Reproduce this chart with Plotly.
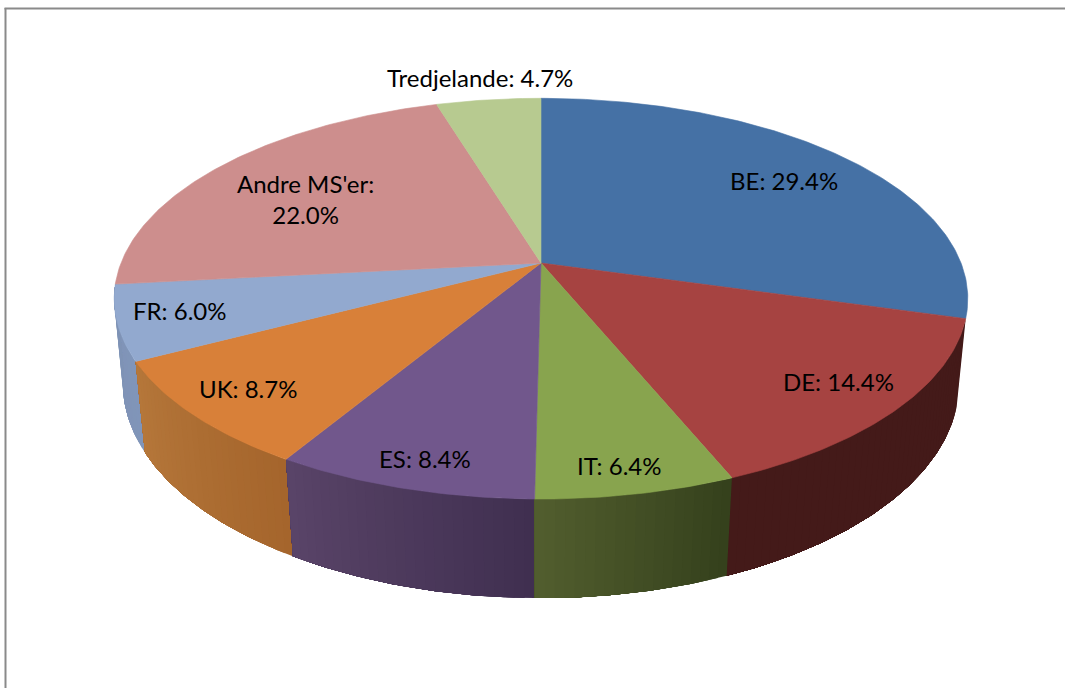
import math
import plotly.graph_objects as go

# ---- data ----
categories = ["BE", "DE", "IT", "ES", "UK", "FR", "Andre MS'er", "Tredjelande"]
shares = [29.4, 14.4, 6.4, 8.4, 8.7, 6.0, 22.0, 4.7]
label_texts = ["BE: 29.4%", "DE: 14.4%", "IT: 6.4%", "ES: 8.4%", "UK: 8.7%", "FR: 6.0%",
               "Andre MS'er:<br>22.0%", "Tredjelande: 4.7%"]

# ---- style ----
top_colors = ["#4571A5", "#A64341", "#88A44E", "#71578C", "#D88039", "#92A9CF", "#CD8E8D", "#B7CA90"]
wall_colors = [None, ("#441A19", "#441A19"), ("#525E2E", "#34401C"), ("#5A4468", "#3F2F50"),
               ("#B5773A", "#A5652C"), ("#7F93B5", "#8095B9"), None, None]
label_anchor = [(784, 180), (838, 381), (619, 465), (425, 458), (248, 388), (180, 310), (305, 199), (480, 77)]

# projection of the pie disc: apex of the top face and perspective of top / bottom rims
APEX = (541, 263)
TOP = dict(a=420, b=194, k=0.178, cy=263)
BOTTOM = dict(a=412, b=208, k=0.17, cy=347.5)


def project(theta, rim):
    u, v = math.sin(theta), -math.cos(theta)
    d = 1 - rim["k"] * v
    return APEX[0] + rim["a"] * u / d, rim["cy"] + rim["b"] * v / d


def lerp_color(c0, c1, t):
    a = [int(c0[i:i + 2], 16) for i in (1, 3, 5)]
    b = [int(c1[i:i + 2], 16) for i in (1, 3, 5)]
    return "rgb(%d,%d,%d)" % tuple(round(p + (q - p) * t) for p, q in zip(a, b))


def poly(xs, ys, color, width=0.0):
    return go.Scatter(x=xs, y=ys, mode="lines", fill="toself", fillcolor=color,
                      line=dict(color=color, width=width), hoverinfo="skip", showlegend=False)


total = sum(shares)
starts, acc = [], 0.0
for s in shares:
    starts.append(acc / total * 2 * math.pi)
    acc += s
ends = starts[1:] + [2 * math.pi]

fig = go.Figure()

# side walls, back to front; each band reaches to the slice end so that the
# next one paints over it and no seam shows
for i in [5, 4, 1, 3, 2]:
    c0, c1 = wall_colors[i]
    n = max(6, int((ends[i] - starts[i]) * 50))
    for j in range(n):
        t0 = starts[i] + (ends[i] - starts[i]) * j / n
        t1 = ends[i]
        m_steps = max(2, (n - j) * 2)
        angles = [t0 + (t1 - t0) * m / m_steps for m in range(m_steps + 1)]
        xs, ys = [], []
        for a in angles:
            x, y = project(a, TOP)
            xs.append(x); ys.append(y)
        for a in reversed(angles):
            x, y = project(a, BOTTOM)
            xs.append(x); ys.append(y)
        xs.append(xs[0]); ys.append(ys[0])
        # colours run left to right on the screen, while angle runs right to left
        fig.add_trace(poly(xs, ys, lerp_color(c1, c0, (j + 0.5) / n)))

# top faces
for i in range(len(shares)):
    n = max(8, int((ends[i] - starts[i]) * 80))
    xs, ys = [APEX[0]], [APEX[1]]
    for m in range(n + 1):
        x, y = project(starts[i] + (ends[i] - starts[i]) * m / n, TOP)
        xs.append(x); ys.append(y)
    xs.append(APEX[0]); ys.append(APEX[1])
    fig.add_trace(poly(xs, ys, top_colors[i], 0.6))

annotations = [
    dict(x=p[0], y=p[1], text=t, showarrow=False, xanchor="center", yanchor="middle",
         align="center", font=dict(family="Lato", size=24, color="#000000"))
    for p, t in zip(label_anchor, label_texts)
]

shapes = [
    dict(type="line", xref="paper", yref="paper", x0=5.5 / 1065, x1=5.5 / 1065, y0=0, y1=1 - 8 / 688,
         line=dict(color="#8A8A8A", width=2)),
    dict(type="line", xref="paper", yref="paper", x0=4.5 / 1065, x1=1, y0=1 - 8.5 / 688, y1=1 - 8.5 / 688,
         line=dict(color="#8A8A8A", width=2)),
]

fig.update_layout(
    width=1065, height=688, margin=dict(l=0, r=0, t=0, b=0),
    paper_bgcolor="white", plot_bgcolor="white", showlegend=False,
    xaxis=dict(range=[0, 1065], visible=False, fixedrange=True),
    yaxis=dict(range=[688, 0], visible=False, fixedrange=True),
    annotations=annotations, shapes=shapes,
)
fig.write_html("out.html", config=dict(displayModeBar=False),
               post_script="document.body.style.margin='0';document.body.style.overflow='hidden';")
